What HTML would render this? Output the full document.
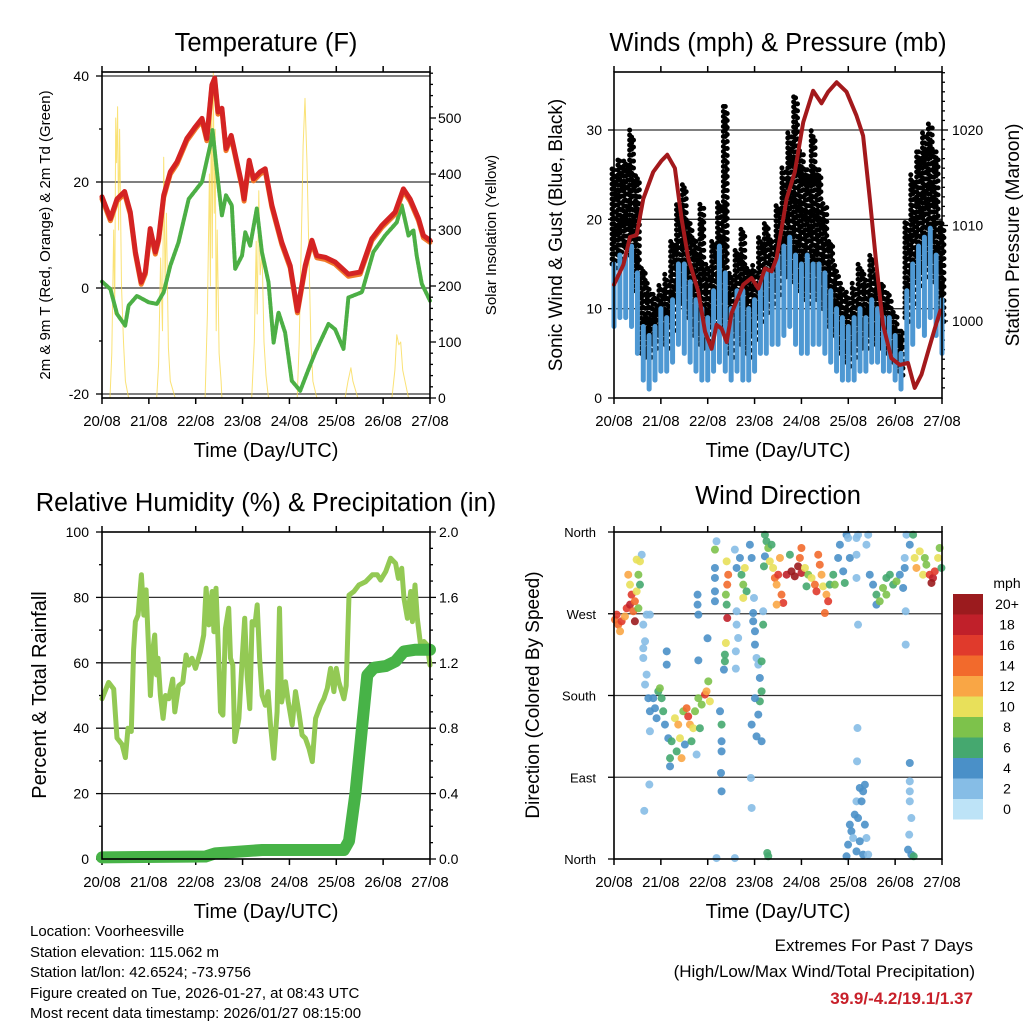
<!DOCTYPE html>
<html><head><meta charset="utf-8"><style>
html,body{margin:0;padding:0;background:#fff;}
svg{display:block;font-family:"Liberation Sans",sans-serif;}
</style></head><body>
<svg id="fig" width="1024" height="1024" viewBox="0 0 1024 1024">
<g id="layer"></g>
<text x="30" y="936" font-size="15">Location: Voorheesville</text>
<text x="30" y="957" font-size="15">Station elevation: 115.062 m</text>
<text x="30" y="977" font-size="15">Station lat/lon: 42.6524; -73.9756</text>
<text x="30" y="998" font-size="15">Figure created on Tue, 2026-01-27, at 08:43 UTC</text>
<text x="30" y="1018" font-size="15">Most recent data timestamp: 2026/01/27 08:15:00</text>
<text x="973" y="951" font-size="17" text-anchor="end">Extremes For Past 7 Days</text>
<text x="975" y="977" font-size="17" text-anchor="end">(High/Low/Max Wind/Total Precipitation)</text>
<text x="973" y="1004" font-size="17" font-weight="bold" fill="#c8202a" text-anchor="end">39.9/-4.2/19.1/1.37</text>
</svg>
<script>
const xTickLabels=['20/08','21/08','22/08','23/08','24/08','25/08','26/08','27/08'];
const tHours=[0,4.3,7.7,11.6,14.5,17.1,20.1,22.2,24.7,27.3,29,31.6,35,38.4,43.5,47.8,51.2,53.7,56.3,57.7,59.4,61.4,63.5,66.2,69.1,71.7,72.8,75.4,77.6,81,83.6,87,92.1,96.4,100.1,104.1,107.5,110,114.3,119.4,126.2,132.2,138.2,143.3,150.1,154.4,157.8,162.1,164.6,168];
const tempRed=[17.2,13.1,16.8,18.2,14.3,6.8,1.1,3.0,11.2,6.8,9.3,17.5,21.9,23.8,28.2,30.4,32,28.2,38.3,39.6,33.2,33.9,26.3,28.8,23.8,19.4,16.8,24.1,20.6,21.9,22.5,15.6,8.6,4.2,-4.3,4.2,9,6.1,5.8,4.9,2.6,3,9.3,11.8,14.3,18.7,16.8,13.1,9.9,9];
const tdHours=[0,4.3,7.7,11.9,13.6,17.9,23.9,28.1,31.6,35,39.2,44.4,51.2,55.4,56.6,58.9,61.4,63.5,66.5,68.2,71.7,73.4,75.9,79.3,81.9,85.3,87.9,90.4,93.8,97.2,101.5,105.8,109.2,116,119.4,123.7,126.2,133.1,139,145,151,153.5,157,159.5,161.2,163.8,168];
const dewGreen=[1.2,-0.2,-4.9,-7.1,-3.3,-1.5,-2.7,-3.0,-0.8,4.2,8.6,16.8,20,26.9,29.8,21.9,13.7,17.5,15.6,3.6,6.1,10.5,8,15,6.8,1.1,-10.3,-4.6,-8.4,-17.5,-19.4,-15.3,-12.2,-6.8,-7.8,-11.5,-1.8,-0.8,6.8,9.9,12.4,15.6,9.9,10.9,6.1,0.8,-2.4];
const solarHours=[0,4.1,5,6,6.5,7,7.5,8,8.5,9,10,11,12,13.6,28,29,30,31,31.6,32.3,33,34,35,37.5,52.8,54,55,55.5,56,56.5,57,57.5,58,58.5,59,60,61,61.4,76.7,78,79,79.5,80.3,81,82,83,84,85.3,100,101,102.5,103,104,105,106,107,108,110,124.5,126,127.5,128.5,131,148.5,150,151,152,153,154,157,168];
const solarVals=[0,0,80,300,150,500,420,520,300,480,200,100,30,0,0,60,250,120,430,200,330,90,30,0,0,150,400,200,560,250,583,330,480,120,300,80,30,0,0,100,280,150,370,220,260,100,40,0,0,100,350,450,535,420,250,100,30,0,0,30,54,30,0,0,50,113,95,100,50,0,0];
const windHours=[0,3,6,9,12,15,18,21,24,27,30,33,36,39,42,45,48,51,54,57,60,63,66,69,72,75,78,81,84,87,90,93,96,99,102,105,108,111,114,117,120,123,126,129,132,135,138,141,144,147,150,153,156,159,162,165,168];
const windLo=[8,9,9,8,5,2,1,2,3,3,4,6,5,4,3,2,2,3,4,3,2,3,2,2,3,5,5,6,6,7,8,6,5,5,6,6,5,4,3,2,2,2,3,3,4,4,3,3,2,1,4,6,8,7,9,7,5];
const windHi=[15,16,16,17,14,8,7,8,10,9,11,15,15,13,11,10,9,12,17,14,10,12,12,10,11,13,14,14,16,17,18,16,15,16,15,15,14,12,10,9,8,9,10,9,11,10,9,9,7,5,12,15,17,18,19,16,11];
const gustLo=[15,16,17,16,12,5,5,6,7,6,8,11,11,9,7,6,6,8,9,8,5,7,6,5,7,9,10,11,12,14,14,13,12,11,12,11,10,8,7,5,4,5,6,6,7,6,6,5,4,3,9,11,13,14,15,13,9];
const gustHi=[26,27,27,30,25,15,13,12,13,14,18,22,24,20,18,22,15,18,22,33,14,17,19,15,15,18,20,18,22,26,30,34,28,26,30,26,22,18,15,13,12,13,15,14,16,14,13,12,10,8,20,25,28,30,31,28,20];
const presHours=[0,4.8,8.2,11.6,15,20.1,24.4,27.3,31.2,34.6,38,43.2,46.6,50,52.5,55.1,57.7,60.2,66.2,70.5,73.9,77.3,80.7,83.3,88.4,92.6,96.9,102,106.3,109.7,114,119.1,124.2,127.6,131,134.4,137.8,142.1,146.4,150.6,154,157.5,160.9,164.3,167.2];
const presVals=[1003.8,1005.9,1008.8,1009,1012.8,1015.6,1016.8,1017.4,1016,1010.7,1006.6,1003.1,998.9,997.1,999.6,999.2,997.8,1000.8,1003.8,1004.5,1003.4,1005.5,1005.2,1006.6,1012.8,1015.6,1020.8,1024.1,1022.8,1024,1025,1024,1021.5,1019.4,1012.8,1005.9,999.6,996.1,995.4,995.6,993,994.4,996.8,999.2,1001.1];
const rhHours=[0,3.4,6,7.7,10.3,12,13.3,15,16.2,17.1,18.5,20.2,21.4,22.6,23.9,24.8,25.9,27,27.9,28.7,29.9,31.3,32.5,34.2,36.2,37.3,39.3,41.4,43.1,44.4,46.1,47.9,50.4,52.1,53.3,54.7,56.4,57.3,58.4,59.5,60.7,61.9,63.2,64.9,65.8,67,68,70.1,71.8,73.1,74.3,75.7,76.9,78.3,79.5,80.7,82,83.7,85.1,86.3,88,89.7,90.9,92,94,95.4,97.4,99.1,100.8,102.5,104.2,106,107.7,109.4,111.9,113.6,115.4,117.1,118.8,120,121.3,123.9,125.1,126.5,129,131.6,135,138.5,141,142.7,145.3,147.8,150.4,151.8,153.5,154.7,156.4,158.1,159,160.3,161.5,163.2,164.9,166.6,168];
const rhVals=[49,54,52,37,35,31,40,39,64,72.6,74.6,86.9,74.6,82.3,63.4,50,63.4,68.5,56.3,61.4,50,43,50,49,55,45,53,54,62.4,59.3,61.4,58.3,63.4,68.5,82.8,71.6,81.8,69.5,82.8,65.4,45,44,70.5,76.7,61.4,59.3,35.9,43,61.4,73.6,56.3,46,72.6,71.6,77.7,61.4,50,47,51.2,41,30.8,45,76.7,48,54.2,48,41,51.2,45,37.9,36.9,33.8,29.8,43,47,49,52.2,58.3,51.2,58.3,54.2,49,53,80.7,81.8,83.8,84.8,86.9,86.9,85.3,87.9,92,90.4,85.8,88.9,79.7,73.6,81.8,72.6,83.8,73.6,65.4,66.5,65.4,59.3];
const pcpHours=[0,53,58.1,82,123.9,126.5,129.9,133.3,135.9,139.3,145.3,150.4,154.7,160.6,168];
const pcpVals=[0.01,0.015,0.035,0.055,0.055,0.11,0.41,0.82,1.125,1.17,1.18,1.21,1.27,1.28,1.28];
const dirHours=[0.5,2.2,3.9,5.6,3.1,1.4,6.5,8.2,9.0,9.9,10.7,11.6,12.5,7.3,8.2,10.7,12.5,13.3,14.2,11.6,13.3,15,15.9,15,16.7,15.9,17.6,18.4,18.4,16.7,18.4,15,15.5,18.1,20.1,21,21.8,22.7,23.5,24.4,25.2,26.1,27,27,27.8,28.7,28.7,29.5,31.2,32.9,33.8,34.6,35.5,37.2,38,38.9,40.6,41.5,43.2,44.9,46.6,47.4,49.1,48.3,44,36.3,32.1,39.7,42.3,42.8,42.8,43.2,47.9,43.2,51.7,52.5,51.7,51.7,51.7,51.7,52.5,54.3,55.1,55.1,55.1,54.8,55.1,57.7,58.5,58,57.3,57.7,58,57.3,56.8,56.8,56.3,61.9,62.8,64.5,65.3,66.2,67,67.9,66.2,62.8,62.8,63.6,62.4,62.4,69.6,70.5,71.7,70.1,70.5,61.9,71.3,71.3,72.2,72.2,73,73.9,74.7,75.6,74.7,73.9,70.5,73,75.6,75.6,76.4,76.4,72.2,77.3,78.1,77.3,79,79.8,81.5,82.4,83.3,84.1,85,85.8,86.7,83.3,76.8,80.7,90.1,96,88.4,90.9,92.6,94.3,96,95.2,97.8,99.5,101.2,102.9,104.6,105.4,106.3,107.1,108.8,109.7,108,110.5,103.7,98.6,112.3,113.1,114.8,115.7,117.4,118.2,119.1,119.9,120.8,124.2,125,124.2,124.2,125,124.7,124.5,131,132.7,134.4,134.4,136.1,137.8,139.5,139.5,141.3,143,144.7,146.4,148.1,148.9,129.3,130.2,148.9,149.4,149.4,151.5,149.8,151.5,153.2,154,154.9,156.6,158.3,160,161.7,163.4,164.3,166,166.8,167.7,162.6,159.2,119.1,119.9,120.8,121.6,122.5,123.3,124.2,125,125.9,126.8,127.6,128.5,128.5,129.3,127.6,124.2,125.9,130.2,151.5,151.5,151.5,152.3,151.2,150.6,152.3,153.5,78.5,79];
const dirDeg=[263.5,258,261.7,267,250.7,269,276,280,291,272.7,283.7,294.7,313,313,302,261.7,276,327.7,335,329.6,302,258,239.7,221.3,203,192,177,162.6,140.6,269,269,232,53,82,177,166,155,184.6,188,177,162.6,148,228.6,214,133,111,102,129.6,155,148,133,111,162.6,166,157,148,144,162.6,177,170,181,184.6,173.6,195.6,144,126,118.5,129.6,115,291,280,269,243,218.7,340.6,349.8,320.4,309.4,294.7,283.7,1,162.6,148,129.6,118.5,94.7,74.5,327.7,313,302,291,280,265.3,237.8,225,217.6,208.5,340.6,320.4,331.4,313,302,320.4,294.7,287.4,272.7,258,243.3,228.6,209.6,346,331.4,287.4,89.2,56.2,1,270.8,261.7,250.7,236,221.3,214,199.3,184.6,173.6,159,148,135,129.6,217.6,258,272.7,177,357,349.8,333.2,342.4,327.7,320.4,309.4,302,313,331.4,291,281.9,280,322.2,346,335,342.4,313,316.7,311.2,322.2,314.9,331.4,320.4,313,309.4,302,335,324,313,300.2,291,283.7,270.8,302,294.7,300.2,313,302,331.4,346,316.7,303.9,357,353.4,331.4,353.4,357,335,309.4,258,144.2,107.5,313,302,291,280,283.7,298.4,291,309.4,313,302,305.7,313,298.4,320.4,346,357,331.4,272.7,236,105.7,357,346,357,331.4,320.4,338.7,313,324,313,309.4,316.7,331.4,342.4,320.4,303.9,331.4,3,15.8,37.8,30.5,23.1,48.8,63.5,45.1,78.2,63.5,74.5,81.8,37.8,23.1,4.8,8.4,19.5,4.8,85.5,74.5,63.5,45.1,26.8,10.3,4.8,3,6.6,3];
const dirSpd=[14,13,15,12,12,16,16,18,15,14,13,10,8,12,10,19,8,9,2,10,6,2,2,2,2,2,3,3,1,1,1,1,1,1,4,4,3,6,7,6,5,4,4,4,4,6,4,5,10,11,9,12,8,13,16,12,9,8,7,8,15,11,10,7,6,4,6,5,1,4,3,3,4,4,7,2,4,4,4,4,2,4,6,3,4,4,3,10,14,13,8,6,18,10,6,6,4,2,4,4,6,8,10,6,10,2,2,2,1,1,4,3,2,1,1,1,4,4,3,3,2,2,3,6,6,4,4,3,3,6,6,2,4,6,6,4,8,10,10,14,12,16,12,14,15,12,6,6,6,14,18,19,20,20,18,14,10,8,10,14,13,14,12,10,12,15,13,6,16,6,6,8,4,4,4,6,4,2,4,2,2,1,1,2,1,1,4,4,6,4,8,8,8,6,6,6,8,4,4,4,1,2,2,2,1,4,2,3,6,10,12,9,10,8,16,18,16,10,8,6,19,8,4,4,4,3,2,4,2,4,4,4,4,4,3,2,4,4,3,2,2,2,2,1,2,4,4,6,6,6];
const cbLabels=['20+','18','16','14','12','10','8','6','4','2','0'];
const cbColors=['#9b1b1e','#c0202a','#e03a2c','#f26a2c','#f9a645','#e8e05a','#7dc24b','#45a86f','#4a90c8','#86bde6','#bde3f7'];

const NS='http://www.w3.org/2000/svg';
const layer=document.getElementById('layer');
function mk(tag,at,parent){const e=document.createElementNS(NS,tag);for(const k in at)e.setAttribute(k,at[k]);(parent||layer).appendChild(e);return e;}
function lin(d0,d1,r0,r1){return v=>r0+(v-d0)/(d1-d0)*(r1-r0);}
function txt(x,y,s,size,anchor,rot,name){const e=mk('text',{x:x,y:y,'font-size':size,'text-anchor':anchor||'middle'});if(rot)e.setAttribute('transform','rotate(-90 '+x+' '+y+')');e.textContent=s;


return e;}
function poly(xs,ys,fx,fy,color,w,name){const pts=xs.map((h,i)=>fx(h).toFixed(1)+','+fy(ys[i]).toFixed(1)).join(' ');const e=mk('polyline',{points:pts,fill:'none',stroke:color,'stroke-width':w,'stroke-linejoin':'round','stroke-linecap':'round'});


return e;}

function frame(L,R,T,B,title,titleY,xTitle,p){
  txt((L+R)/2,titleY,title,25.5,'middle',false,p+'-title');
  const fx=lin(0,168,L,R);
  xTickLabels.forEach((s,i)=>{const x=fx(i*24);
    const t1=mk('line',{x1:x,x2:x,y1:B,y2:B+6,stroke:'#000','stroke-width':1.5});
    
    
    const t2=mk('line',{x1:x,x2:x,y1:T,y2:T-6,stroke:'#000','stroke-width':1.5});
    
    
    txt(x,B+28,s,15,'middle',false,p+'-x-tick-label');});
  txt((L+R)/2,B+59,xTitle,20,'middle',false,p+'-x-axis-title');
  return fx;
}
function border(L,R,T,B,p){const e=mk('rect',{x:L,y:T,width:R-L,height:B-T,fill:'none',stroke:'#000','stroke-width':1.6});

}
function hgrid(L,R,y,p){const e=mk('line',{x1:L,x2:R,y1:y,y2:y,stroke:'#333','stroke-width':1.3});

}
function ytick(x,y,len,p){const e=mk('line',{x1:x,x2:x+len,y1:y,y2:y,stroke:'#000','stroke-width':1.3});

}

/* ---------- Temperature ---------- */
(function(){
  const L=102,R=430,T=72,B=398,p='temp';
  const fx=frame(L,R,T,B,'Temperature (F)',51,'Time (Day/UTC)',p);
  const fy=lin(0,40,288,76), fs=lin(0,500,398,118);
  [40,20,0,-20].forEach(v=>{hgrid(L,R,fy(v),p);ytick(L,fy(v),-6,p);txt(L-13,fy(v)+5,String(v),14,'end',false,p+'-y-tick-label');});
  [30,10,-10].forEach(v=>ytick(L,fy(v),-3,p));
  for(let v=0;v<=580;v+=20){ytick(R,fs(v),v%100===0?6:3,p);}
  [0,100,200,300,400,500].forEach(v=>txt(R+8,fs(v)+5,String(v),14,'start',false,p+'-y2-tick-label'));
  poly(solarHours,solarVals,fx,fs,'#f8d848',1,'solar-insolation-line').setAttribute('stroke-opacity','0.75');
  poly(tdHours,dewGreen,fx,fy,'#4caf45',4,'dewpoint-line').setAttribute('stroke-dasharray','3 1.5');
  poly(tHours,tempRed.map(v=>v-0.4),fx,fy,'#f07a2a',5,'temp-9m-orange-line');
  poly(tHours,tempRed,fx,fy,'#d42323',5,'temp-2m-red-line');
  border(L,R,T,B,p);
  txt(50,235,'2m & 9m T (Red, Orange) & 2m Td (Green)',15,'middle',true,'temp-y-axis-title');
  txt(496,235,'Solar Insolation (Yellow)',15,'middle',true,'temp-y2-axis-title');
})();

/* ---------- Winds ---------- */
(function(){
  const L=614,R=942,T=72,B=398,p='wind';
  const fx=frame(L,R,T,B,'Winds (mph) & Pressure (mb)',51,'Time (Day/UTC)',p);
  const fy=lin(0,30,398,130), fp=lin(1000,1020,321,130);
  [10,20,30].forEach(v=>hgrid(L,R,fy(v),p));
  [0,10,20,30].forEach(v=>{ytick(L,fy(v),-6,p);txt(L-12,fy(v)+5,String(v),14,'end',false,p+'-y-tick-label');});
  for(let v=993;v<=1026;v++){ytick(R,fp(v),v%10===0?6:3,p);}
  [1000,1010,1020].forEach(v=>txt(R+10,fp(v)+5,String(v),14,'start',false,p+'-y2-tick-label'));
  windHours.forEach((h,i)=>{
    [-1.6,0,1.6].forEach((dx,k)=>{const x=fx(h)+dx*1.2;
      const g=mk('line',{x1:x,x2:x,y1:fy(gustLo[i])+k*2,y2:fy(gustHi[i])+k*3,stroke:'#000','stroke-width':5,'stroke-linecap':'round','stroke-dasharray':'0 '+(5+k)});
      
      });
  });
  windHours.forEach((h,i)=>{const x=fx(h);
    const w=mk('line',{x1:x,x2:x,y1:fy(windLo[i]),y2:fy(windHi[i]),stroke:'#4e98d3','stroke-width':5,'stroke-linecap':'round'});
    
    });
  poly(presHours,presVals,fx,fp,'#a3191c',4,'pressure-line');
  border(L,R,T,B,p);
  txt(562,235,'Sonic Wind & Gust (Blue, Black)',19,'middle',true,'wind-y-axis-title');
  txt(1019,235,'Station Pressure (Maroon)',19,'middle',true,'wind-y2-axis-title');
})();

/* ---------- RH & Precip ---------- */
(function(){
  const L=102,R=430,T=532,B=859,p='rh';
  const fx=frame(L,R,T,B,'Relative Humidity (%) & Precipitation (in)',511,'Time (Day/UTC)',p);
  const fy=lin(0,100,859,532), fp=lin(0,2,859,532);
  [20,40,60,80].forEach(v=>hgrid(L,R,fy(v),p));
  [0,20,40,60,80,100].forEach(v=>{ytick(L,fy(v),-6,p);txt(L-13,fy(v)+5,String(v),14,'end',false,p+'-y-tick-label');});
  [10,30,50,70,90].forEach(v=>ytick(L,fy(v),-3,p));
  for(let v=0;v<=20;v++){ytick(R,fp(v/10),v%4===0?6:3,p);}
  [0,0.4,0.8,1.2,1.6,2.0].forEach(v=>txt(R+9,fp(v)+5,v.toFixed(1),14,'start',false,p+'-y2-tick-label'));
  poly(rhHours,rhVals,fx,fy,'#93c954',5,'relative-humidity-line');
  poly(pcpHours,pcpVals,fx,fp,'#47b347',12,'precipitation-line');
  border(L,R,T,B,p);
  txt(46,695,'Percent & Total Rainfall',20,'middle',true,'rh-y-axis-title');
})();

/* ---------- Wind direction ---------- */
(function(){
  const L=614,R=942,T=532,B=859,p='dir';
  const fx=frame(L,R,T,B,'Wind Direction',504,'Time (Day/UTC)',p);
  const fy=lin(0,360,859,532);
  [90,180,270].forEach(v=>hgrid(L,R,fy(v),p));
  const dl=['North','East','South','West','North'];
  [0,90,180,270,360].forEach((v,i)=>{ytick(L,fy(v),-6,p);txt(L-18,fy(v)+5,dl[i],13,'end',false,p+'-y-tick-label');});
  dirHours.forEach((h,i)=>{const idx=Math.min(10,Math.round(dirSpd[i]/2));
    const c=mk('circle',{cx:fx(h),cy:fy(dirDeg[i]),r:4,fill:cbColors[10-idx],'fill-opacity':0.9});
    
    });
  border(L,R,T,B,p);
  txt(539,695,'Direction (Colored By Speed)',19,'middle',true,'dir-y-axis-title');
  txt(1007,588,'mph',14,'middle',false,'colorbar-title');
  cbLabels.forEach((s,i)=>{const y=594+i*20.5;
    const r=mk('rect',{x:953,y:y,width:30,height:20.5,fill:cbColors[i]});
    
    
    txt(1007,y+15,s,14,'middle',false,'colorbar-label');});
})();
</script>
</body></html>
